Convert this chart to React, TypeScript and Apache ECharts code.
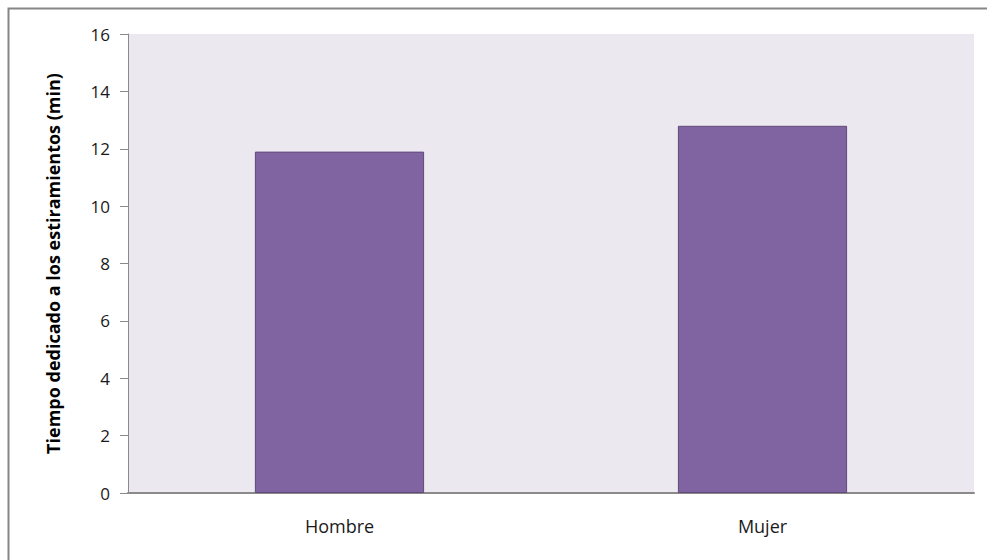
import React, { useEffect, useRef } from "react";
import * as echarts from "echarts";

const categories = ["Hombre", "Mujer"];
const minutes = [11.9, 12.8];
const yTitle = "Tiempo dedicado a los estiramientos (min)";

const FONT = "'Open Sans', 'Noto Sans', sans-serif";

export default function App() {
  const ref = useRef<HTMLDivElement>(null);

  useEffect(() => {
    if (!ref.current) return;
    const chart = echarts.init(ref.current, undefined, { renderer: "svg" });
    chart.setOption({
      animation: false,
      backgroundColor: "#ffffff",
      graphic: [
        {
          type: "rect",
          shape: { x: 8.5, y: 8.5, width: 1100, height: 700 },
          style: { fill: "none", stroke: "#868686", lineWidth: 2 },
          silent: true,
        },
      ],
      grid: {
        left: 128,
        top: 34,
        right: 13,
        bottom: 67,
        show: true,
        backgroundColor: "#ebe9ef",
        borderWidth: 0,
      },
      xAxis: {
        type: "category",
        data: categories,
        axisLine: { show: true, lineStyle: { color: "#8a8a8a", width: 2 } },
        axisTick: { show: false },
        axisLabel: {
          color: "#1a1a1a",
          fontFamily: FONT,
          fontSize: 18,
          margin: 24,
        },
      },
      yAxis: {
        type: "value",
        min: 0,
        max: 16,
        interval: 2,
        name: yTitle,
        nameLocation: "middle",
        nameGap: 66,
        nameTextStyle: {
          color: "#000",
          fontFamily: FONT,
          fontSize: 18,
          fontWeight: "bold",
        },
        axisLine: { show: true, lineStyle: { color: "#8a8a8a", width: 1 } },
        axisTick: { show: true, length: 8, lineStyle: { color: "#8a8a8a" } },
        axisLabel: {
          color: "#1a1a1a",
          fontFamily: FONT,
          fontSize: 17,
          margin: 18,
        },
        splitLine: { show: false },
      },
      series: [
        {
          type: "bar",
          data: minutes,
          barWidth: "40%",
          itemStyle: {
            color: "#8064a2",
            borderColor: "#5f4a7a",
            borderWidth: 1,
          },
        },
      ],
    });
    return () => chart.dispose();
  }, []);

  return (
    <div
      style={{
        position: "fixed",
        left: 0,
        top: 0,
        width: 987,
        height: 560,
        overflow: "hidden",
        background: "#fff",
      }}
    >
      <div ref={ref} style={{ width: 987, height: 560 }} />
    </div>
  );
}
